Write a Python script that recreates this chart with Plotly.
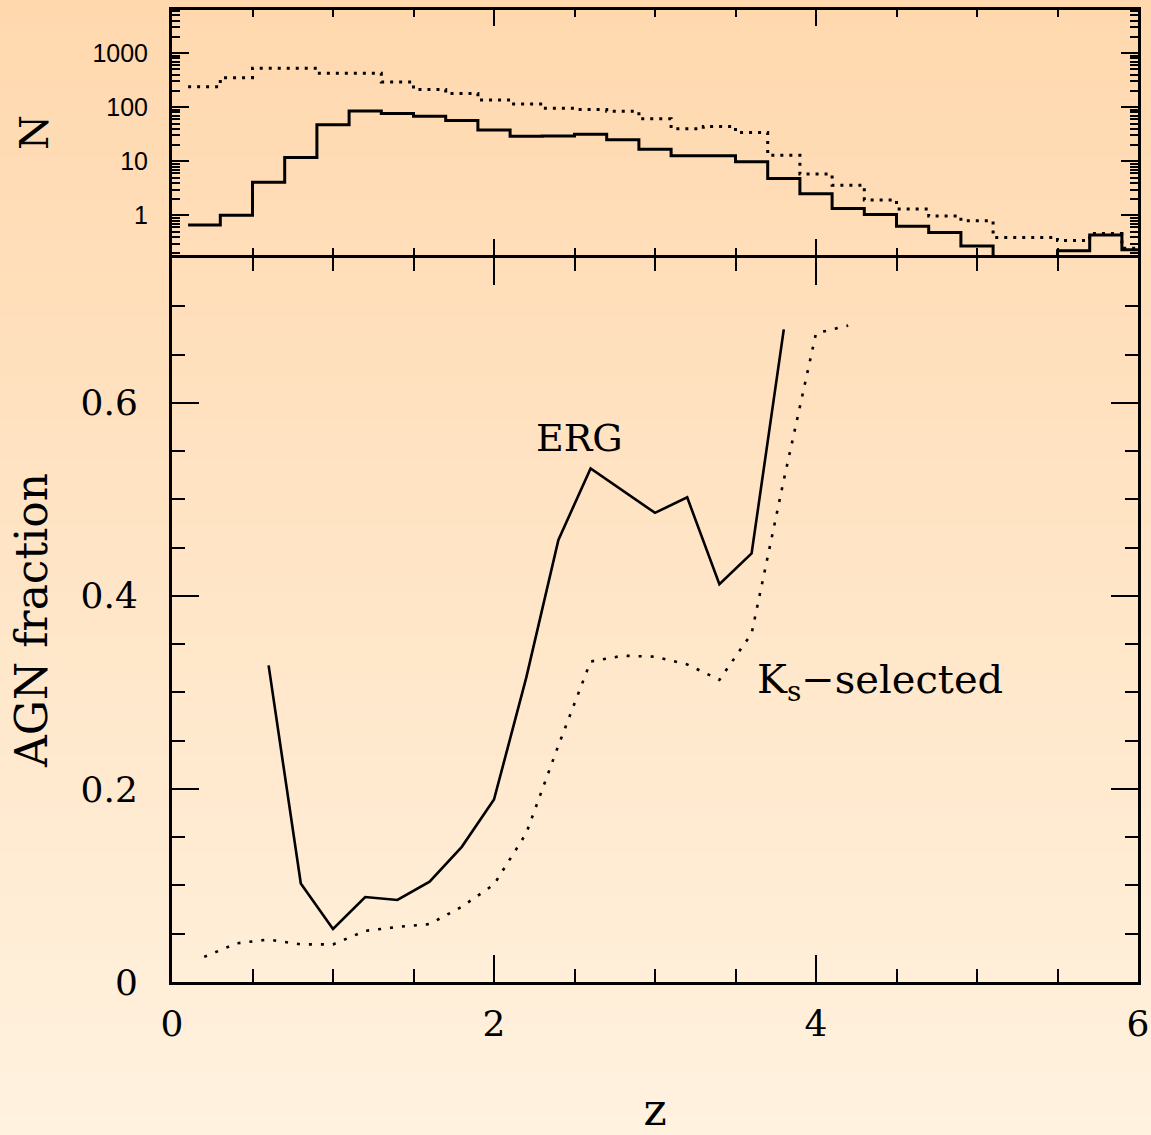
import base64, struct, zlib
import plotly.graph_objects as go

# ---------------- data ----------------
# histogram bins (centres, width 0.2)
z_bins = [0.2, 0.4, 0.6, 0.8, 1.0, 1.2, 1.4, 1.6, 1.8, 2.0,
          2.2, 2.4, 2.6, 2.8, 3.0, 3.2, 3.4, 3.6, 3.8, 4.0,
          4.2, 4.4, 4.6, 4.8, 5.0, 5.2, 5.4, 5.6, 5.8, 6.0]
n_erg = [0.66, 1.0, 4.1, 11.7, 47.6, 85, 77, 68, 57, 38,
         29, 29.5, 31.6, 25, 16.7, 12.7, 12.7, 9.8, 4.8, 2.5,
         1.34, 1.03, 0.63, 0.48, 0.27, 0, 0, 0.22, 0.43, 0.23]
n_ks = [240, 353, 525, 525, 426, 426, 294, 212, 179, 136,
        115, 96, 91, 84, 61, 40, 44, 34, 12.9, 5.8,
        3.6, 1.92, 1.31, 0.97, 0.79, 0.39, 0.39, 0.34, 0.46, 0.245]
bin_width = 0.2

# AGN fraction curves
z_erg = [0.6, 0.8, 1.0, 1.2, 1.4, 1.6, 1.8, 2.0, 2.2, 2.4, 2.6, 2.8, 3.0, 3.2, 3.4, 3.6, 3.8]
f_erg = [0.328, 0.102, 0.055, 0.088, 0.085, 0.104, 0.140, 0.189, 0.315, 0.458, 0.532,
         0.509, 0.486, 0.502, 0.412, 0.444, 0.676]
z_ks = [0.2, 0.4, 0.6, 0.8, 1.0, 1.2, 1.4, 1.6, 1.8, 2.0, 2.2, 2.4, 2.6, 2.8, 3.0,
        3.2, 3.4, 3.6, 3.8, 4.0, 4.2]
f_ks = [0.026, 0.040, 0.044, 0.039, 0.039, 0.053, 0.057, 0.060, 0.078, 0.101, 0.154,
        0.245, 0.332, 0.338, 0.337, 0.329, 0.313, 0.361, 0.52, 0.672, 0.680]

x_ticks = [0, 2, 4, 6]
frac_ticks = [0, 0.2, 0.4, 0.6]
frac_labels = ["0", "0.2", "0.4", "0.6"]
n_ticks = [1, 10, 100, 1000]
n_labels = ["1", "10", "100", "1000"]

# ---------------- helpers ----------------
def step_xy(centres, vals, width, floor=1e-3):
    xs = [c - width / 2 for c in centres] + [centres[-1] + width / 2]
    ys = [v if v > 0 else floor for v in vals]
    ys = ys + [ys[-1]]
    return xs, ys

def gradient_png(top, bottom, h=256):
    rows = []
    for i in range(h):
        t = i / (h - 1)
        c = bytes(int(round(top[k] + (bottom[k] - top[k]) * t)) for k in range(3))
        rows.append(b"\x00" + c * 2)
    raw = b"".join(rows)

    def chunk(tag, data):
        return (struct.pack(">I", len(data)) + tag + data +
                struct.pack(">I", zlib.crc32(tag + data) & 0xFFFFFFFF))

    ihdr = struct.pack(">IIBBBBB", 2, h, 8, 2, 0, 0, 0)
    png = (b"\x89PNG\r\n\x1a\n" + chunk(b"IHDR", ihdr) +
           chunk(b"IDAT", zlib.compress(raw)) + chunk(b"IEND", b""))
    return "data:image/png;base64," + base64.b64encode(png).decode()

# ---------------- figure ----------------
W, H = 1151, 1135
ML, MR, MT, MB = 172, 13, 10, 153
PW, PH = W - ML - MR, H - MT - MB
split = 1 - 248 / PH
LW = 3

fig = go.Figure()

xs, ys = step_xy(z_bins, n_ks, bin_width)
fig.add_trace(go.Scatter(x=xs, y=ys, xaxis="x2", yaxis="y2", mode="lines",
                         line=dict(color="black", width=3, dash="3px,6px", shape="hv"),
                         showlegend=False))
xs, ys = step_xy(z_bins, n_erg, bin_width)
fig.add_trace(go.Scatter(x=xs, y=ys, xaxis="x2", yaxis="y2", mode="lines",
                         line=dict(color="black", width=3, shape="hv"),
                         showlegend=False))

fig.add_trace(go.Scatter(x=z_ks, y=f_ks, mode="lines",
                         line=dict(color="black", width=2.6, dash="3px,9px"),
                         showlegend=False))
fig.add_trace(go.Scatter(x=z_erg, y=f_erg, mode="lines",
                         line=dict(color="black", width=2.6),
                         showlegend=False))

serif = "DejaVu Serif"
sans = "Liberation Sans"

common = dict(showline=True, linewidth=LW, linecolor="black", mirror="ticks",
              ticks="inside", tickcolor="black", tickwidth=2,
              showgrid=False, zeroline=False, automargin=False)

minor_log = [k * 10 ** d for d in range(-1, 4) for k in range(2, 10)]

fig.update_layout(
    width=W, height=H,
    autosize=False,
    margin=dict(l=ML, r=MR, t=MT, b=MB, pad=0),
    paper_bgcolor="rgba(0,0,0,0)",
    plot_bgcolor="rgba(0,0,0,0)",
    xaxis=dict(domain=[0, 1], anchor="y", range=[0, 6], tickvals=x_ticks,
               ticklen=27, minor=dict(dtick=0.5, ticklen=13, tickwidth=2, ticks="inside",
                                      tickcolor="black"),
               tickfont=dict(family=serif, size=36, color="black"),
               ticklabelstandoff=8,
               title=dict(text="z", font=dict(family=serif, size=44, color="black"),
                          standoff=62),
               **common),
    yaxis=dict(domain=[0, split], anchor="x", range=[0, 0.75], tickvals=frac_ticks,
               ticktext=frac_labels, ticklen=27,
               minor=dict(dtick=0.05, ticklen=13, tickwidth=2, ticks="inside",
                          tickcolor="black"),
               tickfont=dict(family=serif, size=36, color="black"),
               ticklabelstandoff=24,
               title=dict(text="AGN fraction", font=dict(family=serif, size=44, color="black"),
                          standoff=20),
               **common),
    xaxis2=dict(domain=[0, 1], anchor="y2", range=[0, 6], tickvals=x_ticks,
                showticklabels=False, ticklen=16,
                minor=dict(dtick=0.5, ticklen=7, tickwidth=2, ticks="inside",
                           tickcolor="black"),
                **common),
    yaxis2=dict(domain=[split + LW / PH, 1], anchor="x2", type="log", range=[-0.735, 3.80],
                tickvals=n_ticks, ticktext=n_labels, ticklen=17,
                minor=dict(tickvals=minor_log, ticklen=8, tickwidth=2, ticks="inside",
                           tickcolor="black"),
                tickfont=dict(family=sans, size=25, color="black"),
                ticklabelstandoff=16,
                title=dict(text="N", font=dict(family=serif, size=40, color="black"),
                           standoff=32),
                **common),
    images=[dict(source=gradient_png((255, 216, 174), (255, 242, 223)),
                 xref="paper", yref="paper",
                 x=-ML / PW, y=1 + MT / PH, sizex=W / PW, sizey=H / PH,
                 sizing="stretch", xanchor="left", yanchor="top", layer="below")],
    annotations=[
        dict(text="ERG", x=2.53, y=0.564, xref="x", yref="y", showarrow=False,
             font=dict(family=serif, size=38, color="black")),
        dict(text="K<sub>s</sub>\u2212selected", x=3.62, y=0.311, xref="x", yref="y",
             showarrow=False, xanchor="left",
             font=dict(family=serif, size=40, color="black")),
    ],
)

fig.write_html(
    "out.html",
    post_script="document.documentElement.style.margin='0';"
                "document.body.style.margin='0';"
                "document.body.style.overflow='hidden';",
)
